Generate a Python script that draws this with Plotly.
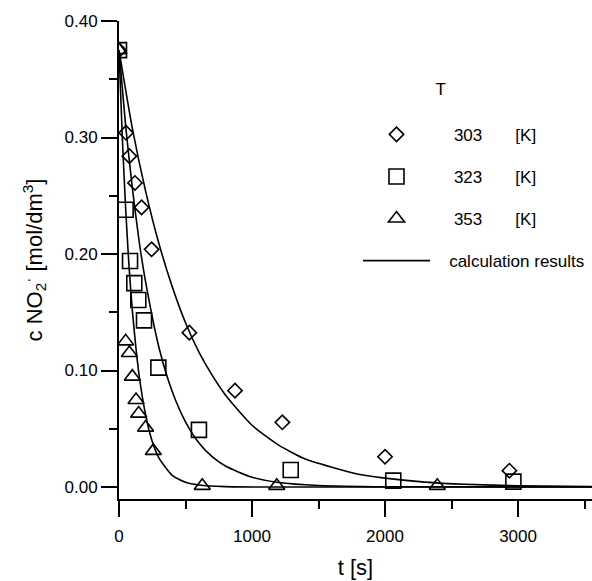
import plotly.graph_objects as go

t_303 = [0, 53, 78, 120, 170, 245, 529, 872, 1228, 2000, 2935]
c_303 = [0.375, 0.304, 0.284, 0.261, 0.240, 0.204, 0.1325, 0.0827, 0.0555, 0.026, 0.014]

t_323 = [0, 50, 83, 115, 145, 188, 296, 601, 1291, 2062, 2965]
c_323 = [0.375, 0.238, 0.194, 0.175, 0.1605, 0.143, 0.1025, 0.049, 0.0146, 0.0055, 0.0046]

t_353 = [0, 50, 78, 100, 128, 148, 200, 258, 626, 1186, 2393]
c_353 = [0.375, 0.125, 0.115, 0.0947, 0.0747, 0.063, 0.051, 0.031, 0.001, 0.001, 0.001]

# ---- calculation results (curves) ----
tc_303 = [0, 100, 200, 300, 400, 500, 600, 700, 800, 1000, 1200, 1400, 1600, 1800, 2000, 2300, 2600, 3000, 3556]
cc_303 = [0.375, 0.308, 0.254, 0.209, 0.172, 0.141, 0.116, 0.096, 0.079, 0.053, 0.036, 0.024, 0.017, 0.011,
          0.0076, 0.0042, 0.0023, 0.0011, 0.0004]

tc_323 = [0, 50, 100, 150, 200, 300, 400, 500, 600, 700, 800, 1000, 1200, 1500, 2000, 3556]
cc_323 = [0.375, 0.310, 0.257, 0.212, 0.176, 0.120, 0.082, 0.056, 0.038, 0.026, 0.018, 0.0084, 0.0039,
          0.0013, 0.0002, 0.0]

tc_353 = [0, 25, 50, 75, 100, 150, 200, 250, 300, 400, 500, 600, 800, 1200, 3556]
cc_353 = [0.375, 0.300, 0.239, 0.190, 0.152, 0.097, 0.062, 0.039, 0.025, 0.010, 0.004, 0.0017, 0.0003, 0.0, 0.0]

labels = ["303", "323", "353"]
NB = "\u00a0"

FONT = "Liberation Sans, Arial, Helvetica, sans-serif"
fig = go.Figure()

line_style = dict(color="black", width=1.6, shape="spline", smoothing=0.6)
curves = [(tc_303, cc_303), (tc_323, cc_323), (tc_353, cc_353)]
for i, (tx, cy) in enumerate(curves):
    fig.add_trace(go.Scatter(
        x=tx, y=cy, mode="lines", line=line_style,
        name=NB * 3 + "calculation results", legendgroup="calc", legendrank=4,
        showlegend=(i == 0), hoverinfo="skip"))

marker_sets = [
    (t_303, c_303, "diamond-open", 11),
    (t_323, c_323, "square-open", 15),
    (t_353, c_353, "triangle-up-open", 14),
]
for rank, ((tx, cy, sym, sz), lab) in enumerate(zip(marker_sets, labels), start=1):
    fig.add_trace(go.Scatter(
        x=tx, y=cy, mode="markers",
        marker=dict(symbol=sym, size=sz, color="black", line=dict(color="black", width=1.6)),
        name=NB * 4 + lab + NB * 7 + "[K]", legendgroup="g" + lab, legendrank=rank))

axis_common = dict(
    showline=True, linecolor="black", linewidth=2,
    ticks="outside", ticklen=16, tickwidth=2, tickcolor="black",
    showgrid=False, zeroline=False,
    tickfont=dict(family=FONT, size=17, color="black"),
    title_font=dict(family=FONT, size=22, color="black"),
)

fig.update_xaxes(
    range=[0, 3556], dtick=1000, tick0=0,
    minor=dict(dtick=500, ticklen=8, tickwidth=2, tickcolor="black", ticks="outside", showgrid=False),
    title_text="t [s]", title_standoff=14, ticklabelstandoff=5,
    **axis_common)
fig.update_yaxes(
    range=[-0.0103, 0.40], dtick=0.1, tick0=0, tickformat=".2f",
    minor=dict(dtick=0.05, ticklen=8, tickwidth=2, tickcolor="black", ticks="outside", showgrid=False),
    title_text="c NO<sub>2</sub><sup>·</sup> [mol/dm<sup>3</sup>]", title_standoff=16,
    ticklabelstandoff=0,
    **axis_common)

fig.update_layout(
    width=592, height=581,
    margin=dict(l=119, r=0, t=21, b=82, autoexpand=False),
    paper_bgcolor="white", plot_bgcolor="white",
    font=dict(family=FONT, color="black"),
    legend=dict(
        x=(358 - 119) / 473, xanchor="left",
        y=0.892, yanchor="top",
        font=dict(family=FONT, size=17, color="black"),
        itemwidth=67, tracegroupgap=17, traceorder="grouped",
        bgcolor="rgba(0,0,0,0)",
        title=dict(text="\u200b" + NB * 16 + "T<br>\u200b",
                   side="top", font=dict(family=FONT, size=17, color="black")),
    ),
)

fig.write_html("out.html", post_script="document.body.style.margin='0';",
               config={"displayModeBar": False})
